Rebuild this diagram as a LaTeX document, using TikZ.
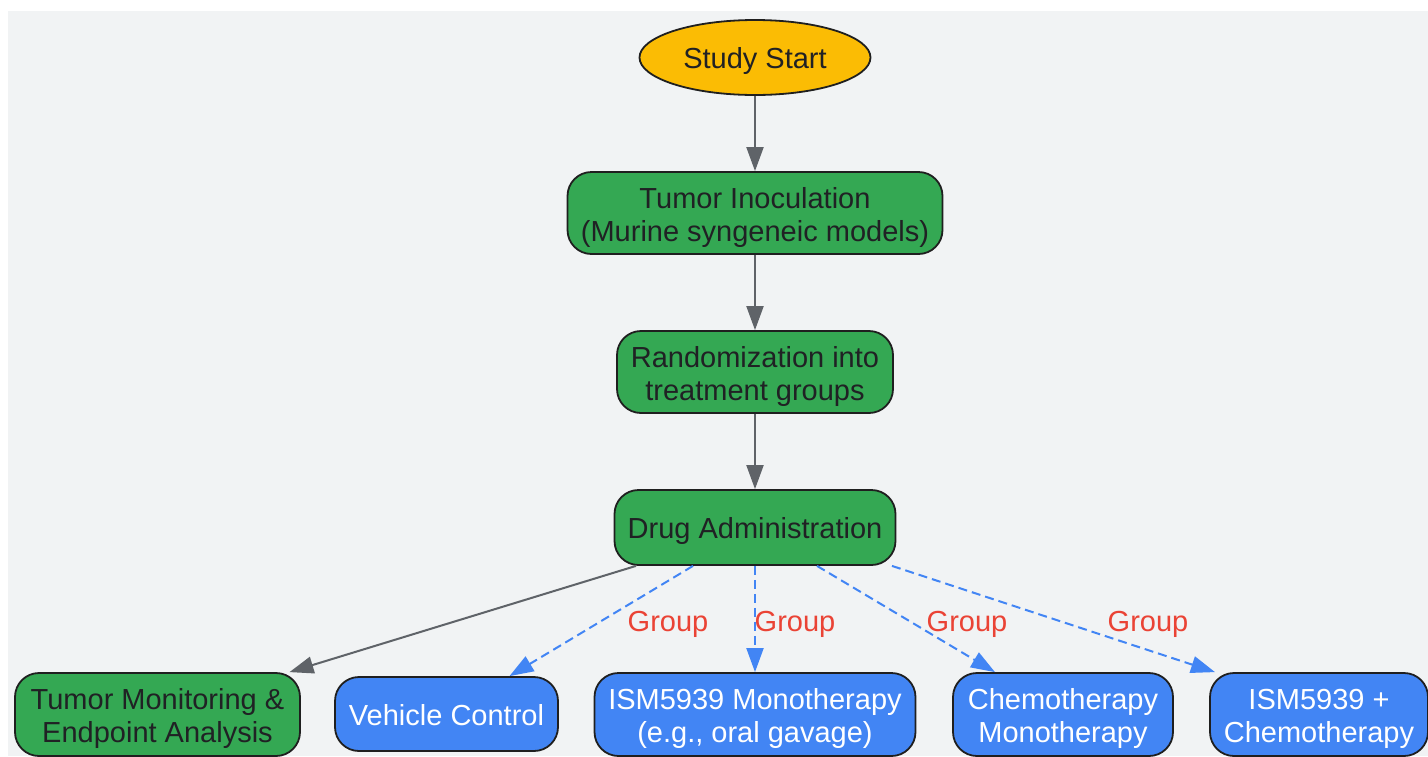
\documentclass[tikz,border=0pt]{standalone}
\usepackage{fontspec}
\setmainfont{Liberation Sans}
\usetikzlibrary{shapes.geometric,arrows.meta}
\definecolor{bg}{HTML}{F1F3F4}
\definecolor{ggreen}{HTML}{34A853}
\definecolor{gblue}{HTML}{4285F4}
\definecolor{ggold}{HTML}{FBBC04}
\definecolor{gred}{HTML}{EA4335}
\definecolor{ggray}{HTML}{5F6368}
\definecolor{txt}{HTML}{202124}
\definecolor{bord}{HTML}{1F1F1F}
\newcommand{\topstrut}{\rule{0pt}{31pt}}
\tikzset{
  basefont/.style={font=\fontsize{29}{33}\selectfont},
  box/.style={draw=bord, line width=1.8pt, rounded corners=24pt, align=center, inner sep=0pt,
    basefont, execute at begin node={\rule[-8pt]{0pt}{38pt}}},
  greenbox/.style={box, fill=ggreen, text=txt},
  bluebox/.style={box, fill=gblue, text=white},
  startnode/.style={ellipse, draw=bord, line width=1.8pt, fill=ggold, text=txt, inner sep=0pt,
    basefont, execute at begin node={\rule[-8pt]{0pt}{38pt}}},
  solidarrow/.style={draw=ggray, line width=2pt, -{Triangle[length=24pt,width=17pt]}},
  dasharrow/.style={draw=gblue, line width=2pt, dash pattern=on 9pt off 5pt, -{Triangle[length=24pt,width=17pt]}},
  grouplab/.style={text=gred, basefont, inner sep=0pt}
}
\begin{document}
\begin{tikzpicture}[x=1pt,y=-1pt]
\useasboundingbox (0,0) rectangle (1428,756);
\fill[bg] (8,11) rectangle (1428,756);

\node[startnode, minimum width=231pt, minimum height=75pt] (start) at (755,57.5) {Study Start};
\node[greenbox, minimum width=375pt, minimum height=82pt] (inoc) at (755,213) {\topstrut Tumor Inoculation\\(Murine syngeneic models)};
\node[greenbox, minimum width=276pt, minimum height=82pt] (rand) at (755,372) {\topstrut Randomization into\\treatment groups};
\node[greenbox, minimum width=281pt, minimum height=75pt] (drug) at (755,527.5) {Drug Administration};

\node[greenbox, minimum width=285pt, minimum height=83pt] (tm) at (157.5,714.5) {\topstrut Tumor Monitoring \&\\Endpoint Analysis};
\node[bluebox, minimum width=223pt, minimum height=74pt] (veh) at (446.5,714) {Vehicle Control};
\node[bluebox, minimum width=321pt, minimum height=83pt] (mono) at (755,714.5) {\topstrut ISM5939 Monotherapy\\(e.g., oral gavage)};
\node[bluebox, minimum width=220pt, minimum height=83pt] (chemo) at (1063,714.5) {\topstrut Chemotherapy\\Monotherapy};
\node[bluebox, minimum width=218pt, minimum height=83pt] (combo) at (1319,714.5) {\topstrut ISM5939 +\\Chemotherapy};

\draw[solidarrow] (start.south) -- (inoc.north);
\draw[solidarrow] (inoc.south) -- (rand.north);
\draw[solidarrow] (rand.south) -- (drug.north);

\draw[solidarrow] ([xshift=-119pt]drug.south) -- ([xshift=132pt]tm.north);
\draw[dasharrow] ([xshift=-62pt]drug.south) -- ([xshift=63pt]veh.north);
\draw[dasharrow] (drug.south) -- (mono.north);
\draw[dasharrow] ([xshift=62pt]drug.south) -- ([xshift=-68pt]chemo.north);
\draw[dasharrow] ([xshift=137pt]drug.south) -- ([xshift=-104pt]combo.north);

\node[grouplab] (g1) at (668,624) {Group};
\node[grouplab] (g2) at (795,624) {Group};
\node[grouplab] (g3) at (967,624) {Group};
\node[grouplab] (g4) at (1148,624) {Group};
\end{tikzpicture}
\end{document}
